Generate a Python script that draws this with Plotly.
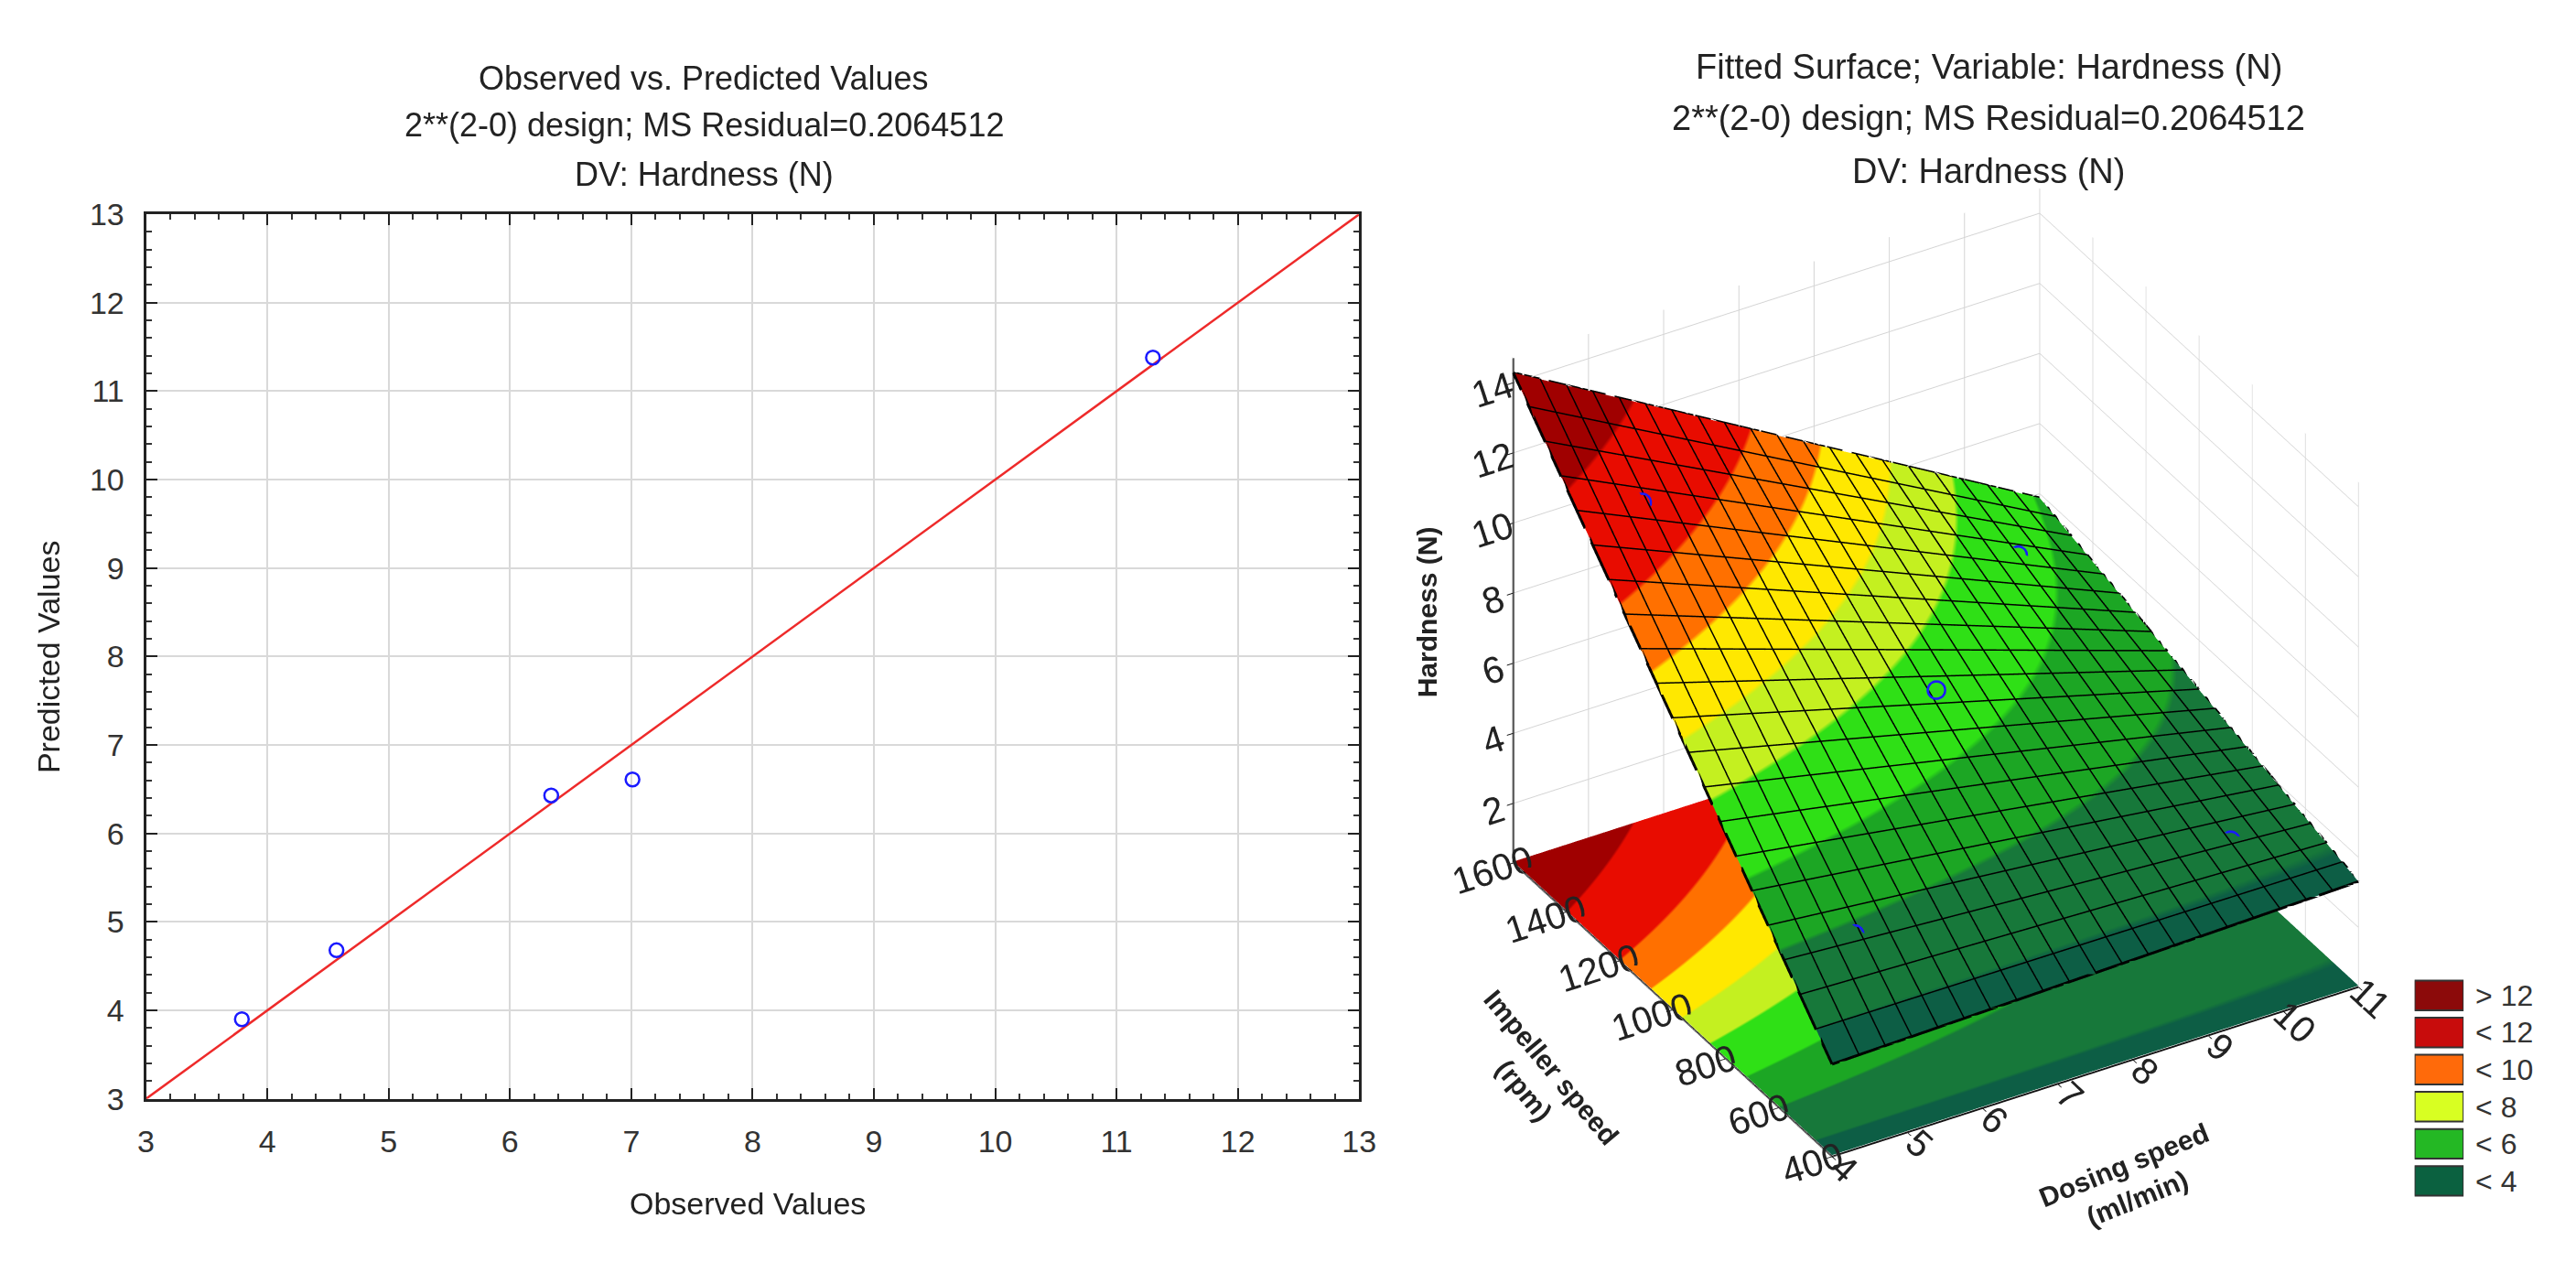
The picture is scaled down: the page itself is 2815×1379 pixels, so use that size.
import numpy as np
import plotly.graph_objects as go

W, H = 2815, 1379

# ---------------- data: observed vs predicted ----------------
observed = [3.79, 4.57, 6.34, 7.01, 11.30]
predicted = [3.90, 4.68, 6.43, 6.61, 11.38]
ref_line = [3, 13]
ovp_ticks = list(range(3, 14))

# ---------------- data: 2**(2-0) design runs ----------------
dosing_runs = [10, 5, 10, 7.5, 5]          # ml/min
impeller_runs = [600, 600, 1400, 1000, 1400]  # rpm
hardness_obs = observed                    # N

dosing_range = [4, 11]
impeller_range = [400, 1600]
hardness_range = [0.3, 14.7]
dosing_ticks = list(range(4, 12))
impeller_ticks = [400, 600, 800, 1000, 1200, 1400, 1600]
hardness_ticks = [2, 4, 6, 8, 10, 12, 14]
mesh_cells = 20

legend_labels = ['> 12', '< 12', '< 10', '< 8', '< 6', '< 4']
legend_colors = ['#8c0a0a', '#c80c0c', '#ff6a0a', '#d8ff22', '#24b824', '#0b6140']

band_edges = [0, 3.5, 4.8, 6.0, 7.3, 8.3, 9.4, 10.5, 12.4, 15]
band_colors = ['#0d5e45', '#17783a', '#1ca624', '#2fe016', '#c4f020',
               '#ffe800', '#ff7000', '#e80c00', '#a00000']

# ---------------- fitted model (linear + interaction) ----------------
D = np.array(dosing_runs, float)
I = np.array(impeller_runs, float)
Y = np.array(hardness_obs, float)
A = np.column_stack([np.ones_like(D), D, I, D * I])
coef, *_ = np.linalg.lstsq(A, Y, rcond=None)
model = lambda d, i: coef[0] + coef[1] * d + coef[2] * i + coef[3] * d * i

dg = np.linspace(dosing_range[0], dosing_range[1], 141)
ig = np.linspace(impeller_range[0], impeller_range[1], 121)
DD, II = np.meshgrid(dg, ig)
ZZ = model(DD, II)

lo, hi = band_edges[0], band_edges[-1]
cscale = []
for k, c in enumerate(band_colors):
    cscale += [[(band_edges[k] - lo) / (hi - lo), c], [(band_edges[k + 1] - lo) / (hi - lo), c]]

flat = dict(ambient=1.0, diffuse=0.0, specular=0.0, roughness=1.0, fresnel=0.0)

# mesh lines over the fitted surface
mx, my, mz = [], [], []
for dv in np.linspace(dosing_range[0], dosing_range[1], mesh_cells + 1):
    iv = np.linspace(impeller_range[0], impeller_range[1], 41)
    mx += list(np.full_like(iv, dv)) + [None]
    my += list(iv) + [None]
    mz += list(model(dv, iv)) + [None]
for iv in np.linspace(impeller_range[0], impeller_range[1], mesh_cells + 1):
    dv = np.linspace(dosing_range[0], dosing_range[1], 41)
    mx += list(dv) + [None]
    my += list(np.full_like(dv, iv)) + [None]
    mz += list(model(dv, iv)) + [None]

FONT = "Liberation Sans, Arial, sans-serif"
fig = go.Figure()

# ---------------- left chart ----------------
fig.add_trace(go.Scatter(x=ref_line, y=ref_line, mode='lines',
                         line=dict(color='#ee2a2a', width=2.5),
                         xaxis='x', yaxis='y', showlegend=False, hoverinfo='skip'))
fig.add_trace(go.Scatter(x=observed, y=predicted, mode='markers',
                         marker=dict(symbol='circle-open', size=15, color='#1a1aff',
                                     line=dict(width=2.5, color='#1a1aff')),
                         xaxis='x', yaxis='y', showlegend=False))

# ---------------- 3D surface ----------------
fig.add_trace(go.Surface(
    x=dg, y=ig, z=np.full_like(ZZ, hardness_range[0] + 0.04), surfacecolor=ZZ,
    colorscale=cscale, cmin=lo, cmax=hi, showscale=False, lighting=flat,
    hoverinfo='skip', scene='scene'))
fig.add_trace(go.Surface(
    x=dg, y=ig, z=ZZ, surfacecolor=ZZ,
    colorscale=cscale, cmin=lo, cmax=hi, showscale=False, lighting=flat,
    contours=dict(x=dict(show=False, highlight=False), y=dict(show=False, highlight=False),
                  z=dict(show=False, highlight=False)),
    hoverinfo='skip', scene='scene'))
fig.add_trace(go.Scatter3d(x=mx, y=my, z=mz, mode='lines',
                           line=dict(color='#000000', width=6),
                           hoverinfo='skip', showlegend=False, scene='scene'))
fig.add_trace(go.Scatter3d(
    x=dosing_runs, y=impeller_runs, z=hardness_obs, mode='markers',
    marker=dict(symbol='circle-open', size=12, color='#1a1aff', line=dict(width=4, color='#1a1aff')),
    showlegend=False, scene='scene'))

# ---------------- legend swatches ----------------
fig.add_trace(go.Bar(x=[1] * len(legend_labels), y=legend_labels, orientation='h',
                     marker=dict(color=legend_colors, line=dict(color='#333333', width=2)),
                     width=0.8, xaxis='x3', yaxis='y3', showlegend=False, hoverinfo='skip'))

px = lambda v: v / W
py = lambda v: 1 - v / H

axis_common = dict(showline=True, linecolor='#222222', linewidth=3, mirror='allticks',
                   ticks='inside', ticklen=12, tickwidth=2, tickcolor='#222222',
                   showgrid=True, gridcolor='#d9d9d9', gridwidth=2, zeroline=False,
                   tickfont=dict(size=34, color='#333333', family=FONT),
                   minor=dict(ticks='inside', ticklen=6, tickwidth=1.5, tickcolor='#333333',
                              dtick=0.2, showgrid=False))

scene_axis = dict(showbackground=False, gridcolor='#d4d4d4', gridwidth=2,
                  showline=True, linecolor='#111111', linewidth=4,
                  ticks='outside', ticklen=8, tickcolor='#111111', tickwidth=2,
                  zeroline=False, showspikes=False,
                  tickfont=dict(size=22, color='#222222', family=FONT), title=dict(text=''))

eye_dir = np.array([-0.4269, -0.7219, 0.5446])
eye = eye_dir * 2.0
k = 1100 / 1220

fig.update_layout(
    width=W, height=H, margin=dict(l=0, r=0, t=0, b=0),
    paper_bgcolor='white', plot_bgcolor='white', hovermode=False,
    font=dict(family=FONT, color='#222222'),
    xaxis=dict(domain=[px(144), px(1483)], range=[3, 13], tickvals=ovp_ticks,
               anchor='y', ticklabelstandoff=14, **axis_common),
    yaxis=dict(domain=[py(1207), py(213)], range=[3, 13], tickvals=ovp_ticks,
               anchor='x', ticklabelstandoff=14, **axis_common),
    xaxis3=dict(domain=[px(2648), px(2702)], range=[0, 1], visible=False, anchor='y3', fixedrange=True),
    yaxis3=dict(domain=[py(1320), py(1070)], anchor='x3', side='right', autorange='reversed',
                showline=False, showgrid=False, ticks='', zeroline=False, ticklabelstandoff=12,
                tickfont=dict(size=32, color='#333333', family=FONT)),
    scene=dict(
        domain=dict(x=[px(1560), px(2680)], y=[py(1338), py(118)]),
        xaxis=dict(range=dosing_range, tickvals=dosing_ticks, **scene_axis),
        yaxis=dict(range=impeller_range, tickvals=impeller_ticks, **scene_axis),
        zaxis=dict(range=hardness_range, tickvals=hardness_ticks, **scene_axis),
        aspectmode='manual', aspectratio=dict(x=1.25 * k, y=1.28 * k, z=1.23 * k),
        camera=dict(eye=dict(x=eye[0], y=eye[1], z=eye[2]), center=dict(x=0, y=0, z=0),
                    up=dict(x=0, y=0, z=1), projection=dict(type='orthographic')),
        bgcolor='rgba(0,0,0,0)'),
)

ann = []
def text(x, y, s, size=36, angle=0, bold=False, color='#222222'):
    ann.append(dict(x=px(x), y=py(y), xref='paper', yref='paper', text=(f'<b>{s}</b>' if bold else s),
                    showarrow=False, textangle=angle, xanchor='center', yanchor='middle',
                    font=dict(size=size, color=color, family=FONT)))

text(760, 60, 'Observed vs. Predicted Values')
text(760, 113, '2**(2-0) design; MS Residual=0.2064512')
text(760, 168, 'DV: Hardness (N)')
text(2178, 47, 'Fitted Surface; Variable: Hardness (N)', size=38)
text(2178, 105, '2**(2-0) design; MS Residual=0.2064512', size=38)
text(2178, 165, 'DV: Hardness (N)', size=38)
text(808, 1324, 'Observed Values', size=34)
text(37, 710, 'Predicted Values', size=34, angle=-90)
text(1558, 660, 'Hardness (N)', size=30, angle=-90, bold=True)
text(1680, 1185, 'Impeller speed<br>(rpm)', size=30, angle=50, bold=True)
text(2335, 1300, 'Dosing speed<br>(ml/min)', size=30, angle=-22, bold=True)
fig.update_layout(annotations=ann)

fig.write_html("out.html")
